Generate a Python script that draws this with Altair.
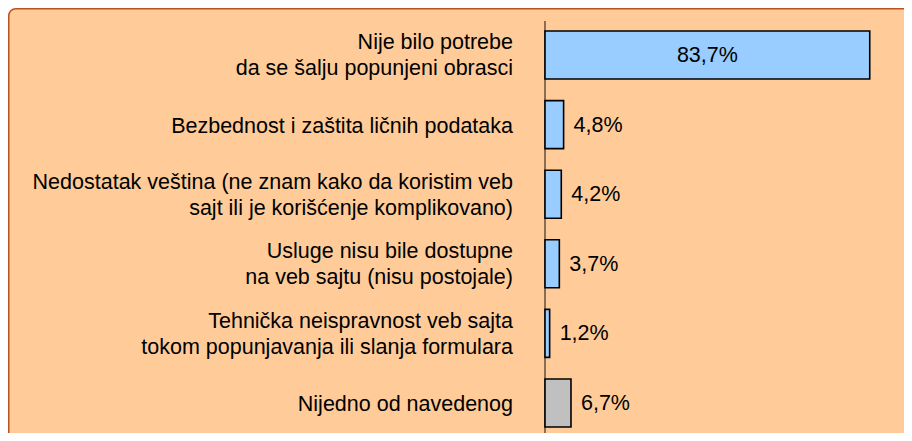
import altair as alt
import pandas as pd

categories = [
    "Nije bilo potrebe\nda se šalju popunjeni obrasci",
    "Bezbednost i zaštita ličnih podataka",
    "Nedostatak veština (ne znam kako da koristim veb\nsajt ili je korišćenje komplikovano)",
    "Usluge nisu bile dostupne\nna veb sajtu (nisu postojale)",
    "Tehnička neispravnost veb sajta\ntokom popunjavanja ili slanja formulara",
    "Nijedno od navedenog",
]
values = [83.7, 4.8, 4.2, 3.7, 1.2, 6.7]
value_labels = ["83,7%", "4,8%", "4,2%", "3,7%", "1,2%", "6,7%"]
groups = ["a", "a", "a", "a", "a", "b"]

df = pd.DataFrame({
    "cat": categories,
    "val": values,
    "lab": value_labels,
    "grp": groups,
    "zero": [0.0] * len(categories),
})

W = 896
H = 425
FONT = "Liberation Sans"

xs = alt.Scale(domain=[-138.4, 92.53], nice=False, zero=False)
ys = alt.Scale(domain=categories, paddingInner=0.31, paddingOuter=0.33,
               range=[0, 442], round=False)

base = alt.Chart(df)

Y = alt.Y("cat:N", scale=ys, axis=None, sort=categories)

# chart frame (background panel with rounded corner, extends past the visible edges)
frame = alt.Chart(pd.DataFrame({"k": [0]})).mark_rect(
    fill="#FFCC99", stroke="#B9521C", strokeWidth=1.5, cornerRadius=7, clip=True,
).encode(
    x=alt.value(0.75), x2=alt.value(W + 20),
    y=alt.value(0.75), y2=alt.value(H + 20),
)

bars = base.mark_bar(stroke="#000000", strokeWidth=1.6).encode(
    x=alt.X("val:Q", scale=xs, axis=None),
    x2="zero:Q",
    y=Y,
    color=alt.Color("grp:N", scale=alt.Scale(domain=["a", "b"], range=["#99CCFF", "#C0C0C0"]), legend=None),
)

axis_rule = base.mark_rule(color="#8A6E55", strokeWidth=1.6).encode(
    x=alt.X("zero:Q", scale=xs, axis=None),
    y=alt.value(13),
    y2=alt.value(H),
)

text_style = dict(align="right", baseline="middle", font=FONT, fontSize=21.5,
                  color="#000000", lineBreak="\n", lineHeight=26, dx=-32)

cat_text_1 = base.mark_text(dy=2, **text_style).transform_filter(
    "indexof(datum.cat, '\\n') < 0"
).encode(
    x=alt.X("zero:Q", scale=xs, axis=None),
    y=Y,
    text="cat:N",
)

cat_text_2 = base.mark_text(dy=-11.5, **text_style).transform_filter(
    "indexof(datum.cat, '\\n') >= 0"
).encode(
    x=alt.X("zero:Q", scale=xs, axis=None),
    y=Y,
    text="cat:N",
)

in_text = base.mark_text(
    align="center", baseline="middle", font=FONT, fontSize=21.5, color="#000000", dy=1,
).transform_filter("datum.val > 50").transform_calculate(mid="datum.val / 2").encode(
    x=alt.X("mid:Q", scale=xs, axis=None),
    y=Y,
    text="lab:N",
)

out_text = base.mark_text(
    align="left", baseline="middle", font=FONT, fontSize=21.5, color="#000000", dx=10, dy=1,
).transform_filter("datum.val <= 50").encode(
    x=alt.X("val:Q", scale=xs, axis=None),
    y=Y,
    text="lab:N",
)

chart = alt.layer(frame, axis_rule, bars, cat_text_1, cat_text_2, in_text, out_text).properties(
    width=W, height=H, padding=0,
    autosize=alt.AutoSizeParams(type="none"),
    background="#FFFFFF",
).configure_view(
    fill="#FFFFFF", strokeWidth=0,
)

chart.save("out.html", embed_options={"renderer": "svg", "actions": False})
